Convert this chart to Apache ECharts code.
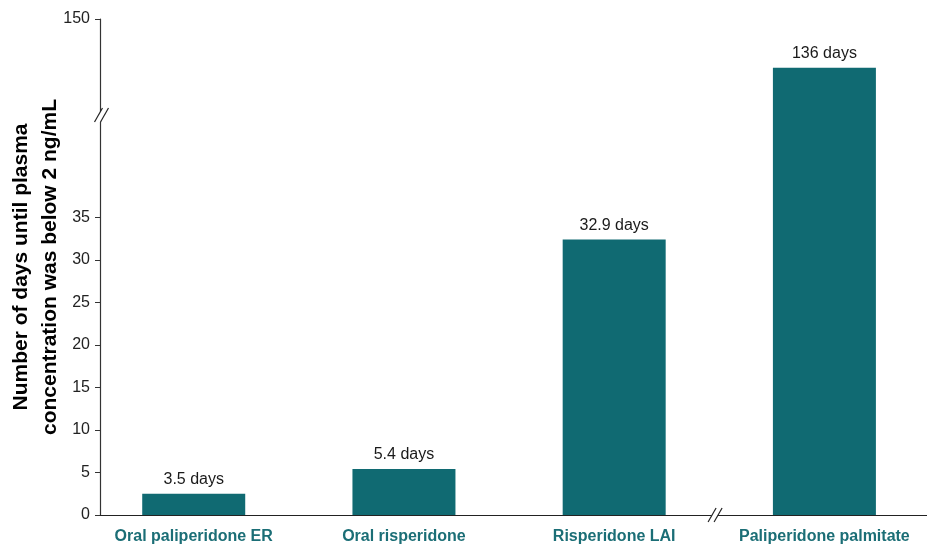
<!DOCTYPE html>
<html><head><meta charset="utf-8">
<script src="https://cdn.jsdelivr.net/npm/echarts@6/dist/echarts.min.js"></script>
<style>html,body{margin:0;padding:0;background:#fff}#c{width:927px;height:548px}</style>
</head><body><div id="c"></div>
<script>
const categories = ['Oral paliperidone ER', 'Oral risperidone', 'Risperidone LAI', 'Paliperidone palmitate'];
const barValues = [2.5, 5.4, 32.4, 136];
const barLabels = ['3.5 days', '5.4 days', '32.9 days', '136 days'];
const yTickValues = [0, 5, 10, 15, 20, 25, 30, 35, 150];

// broken y axis: lower part linear, upper part compressed
const BREAK_LOW = 46.7, BREAK_HIGH = 121.6, UPPER_RATIO = 0.41;
function toDisplay(v) { return v <= BREAK_LOW ? v : BREAK_LOW + (v - BREAK_HIGH) * UPPER_RATIO; }
function fromDisplay(d) { return d <= BREAK_LOW ? d : BREAK_HIGH + (d - BREAK_LOW) / UPPER_RATIO; }
const X_BREAK = 2.48;
const X_MIN = -0.4458, X_MAX = 3.488;

const FONT = "'Liberation Sans', Arial, sans-serif";
const TEAL = '#106a72';
const TEAL_TEXT = '#1b6e76';

const chart = echarts.init(document.getElementById('c'), null, { renderer: 'canvas' });
const yCustom = yTickValues.map(toDisplay);

chart.setOption({
  animation: false,
  backgroundColor: '#fff',
  textStyle: { fontFamily: FONT },
  grid: { left: 100, right: 0, top: 19, bottom: 33, containLabel: false, outerBoundsMode: 'none' },
  xAxis: {
    type: 'value',
    min: X_MIN, max: X_MAX,
    axisLine: { show: true, onZero: false, lineStyle: { color: '#222', width: 1.2 } },
    axisTick: { show: false },
    splitLine: { show: false },
    axisLabel: {
      customValues: [0, 1, 2, 3],
      formatter: v => categories[Math.round(v)],
      color: TEAL_TEXT, fontSize: 16, fontWeight: 'bold', fontFamily: FONT, margin: 14
    }
  },
  yAxis: {
    type: 'value',
    min: 0, max: toDisplay(150),
    name: 'Number of days until plasma\nconcentration was below 2 ng/mL',
    nameLocation: 'middle',
    nameGap: 35,
    nameMoveOverlap: false,
    nameTextStyle: { fontSize: 21, fontWeight: 'bold', color: '#000', lineHeight: 29, fontFamily: FONT },
    axisLine: { show: true, onZero: false, lineStyle: { color: '#333', width: 1.2 } },
    axisTick: { show: true, customValues: yCustom, length: 5, lineStyle: { color: '#333' } },
    splitLine: { show: false },
    axisLabel: {
      customValues: yCustom,
      formatter: d => String(Math.round(fromDisplay(d))),
      color: '#222', fontSize: 16, fontFamily: FONT, margin: 10
    }
  },
  series: [{
    type: 'bar',
    barWidth: 103,
    data: categories.map((c, i) => [i, toDisplay(barValues[i])]),
    itemStyle: { color: TEAL },
    label: {
      show: true, position: 'top', distance: 6,
      formatter: p => barLabels[p.dataIndex],
      color: '#1a1a1a', fontSize: 16, fontFamily: FONT
    }
  }]
});

function breakMark(cx, cy) {
  const s = [[-7, 7], [1, -7]];
  const t = [[-1, 7], [7, -7]];
  return [
    { type: 'polygon', shape: { points: [[cx + s[0][0], cy + s[0][1]], [cx + s[1][0], cy + s[1][1]], [cx + t[1][0], cy + t[1][1]], [cx + t[0][0], cy + t[0][1]]] }, style: { fill: '#fff' }, z: 100 },
    { type: 'line', shape: { x1: cx + s[0][0], y1: cy + s[0][1], x2: cx + s[1][0], y2: cy + s[1][1] }, style: { stroke: '#222', lineWidth: 1.2 }, z: 101 },
    { type: 'line', shape: { x1: cx + t[0][0], y1: cy + t[0][1], x2: cx + t[1][0], y2: cy + t[1][1] }, style: { stroke: '#222', lineWidth: 1.2 }, z: 101 }
  ];
}
const yAxisX = chart.convertToPixel({ xAxisIndex: 0 }, X_MIN);
const yBreakY = chart.convertToPixel({ yAxisIndex: 0 }, toDisplay(BREAK_LOW));
const xAxisY = chart.convertToPixel({ yAxisIndex: 0 }, 0);
const xBreakX = chart.convertToPixel({ xAxisIndex: 0 }, X_BREAK);
chart.setOption({
  graphic: [].concat(breakMark(yAxisX + 1.5, yBreakY - 3), breakMark(xBreakX, xAxisY))
});
</script></body></html>
